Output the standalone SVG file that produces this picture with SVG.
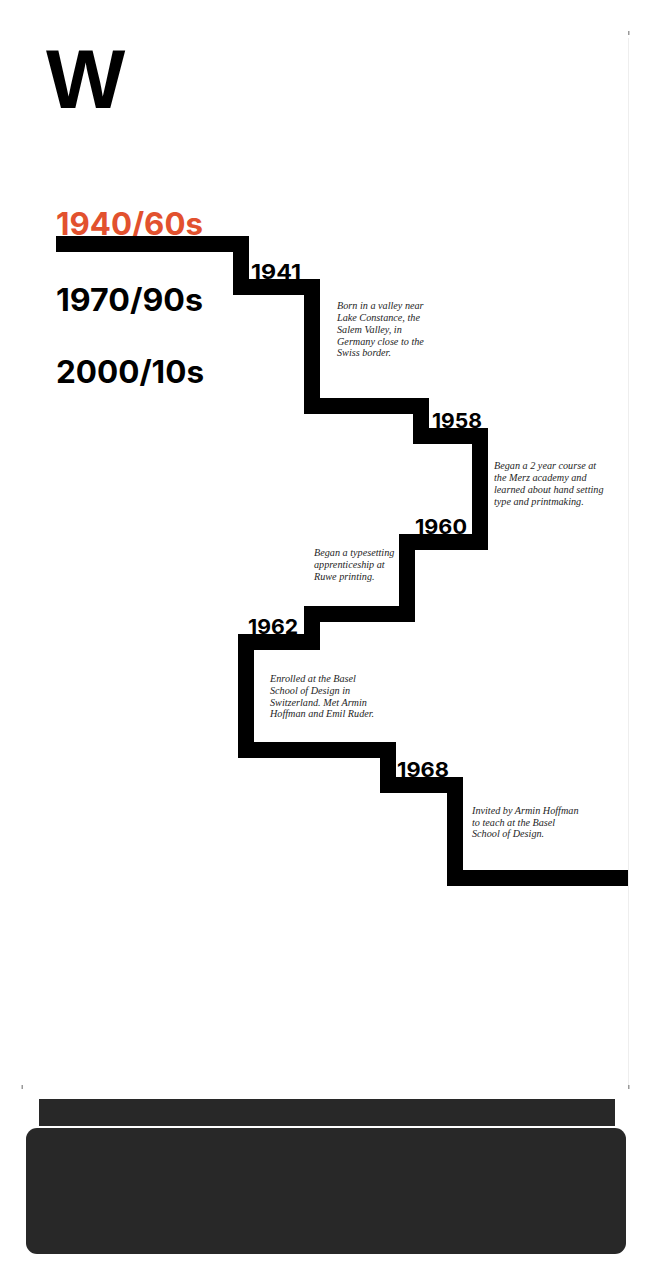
<svg xmlns="http://www.w3.org/2000/svg" width="656" height="1280" viewBox="0 0 656 1280">
  <style>
    .decade { font-family: Inter, "Liberation Sans", Arial, sans-serif; font-weight: bold; font-size: 31px; fill: #000; }
    .year { font-family: Inter, "Liberation Sans", Arial, sans-serif; font-weight: bold; font-size: 20px; fill: #000; }
    .note { font-family: "Liberation Serif", "Times New Roman", serif; font-style: italic; font-size: 10.2px; fill: #1e1e1e; }
    .stair { fill: none; stroke: #000; stroke-width: 16; stroke-linejoin: miter; stroke-linecap: butt; }
    .dark { fill: #282828; }
  </style>
  <rect x="0" y="0" width="656" height="1280" fill="#ffffff"/>
  <line x1="628.5" y1="38" x2="628.5" y2="1086" stroke="#eeeeee" stroke-width="1"/>
  <rect x="628" y="31" width="1.5" height="4" fill="#9a9a9a"/>
  <rect x="628" y="1085" width="1.5" height="4" fill="#9a9a9a"/>
  <rect x="21.5" y="1085" width="1.5" height="4" fill="#9a9a9a"/>

  <g id="logo">
    <text x="46" y="108" font-family="Liberation Sans, Arial, sans-serif" font-weight="bold" font-size="84" fill="#000">W</text>
  </g>

  <g id="decades">
    <text class="decade" x="56" y="235" textLength="147" lengthAdjust="spacingAndGlyphs" style="fill:#E2512E">1940/60s</text>
    <text class="decade" x="56" y="311" textLength="147" lengthAdjust="spacingAndGlyphs">1970/90s</text>
    <text class="decade" x="56" y="383" textLength="148" lengthAdjust="spacingAndGlyphs">2000/10s</text>
  </g>

  <g id="connectors">
    <path class="stair" d="M56,244 H241 V287 H312 V406 H421 V436 H480 V542 H407 V614 H312 V642 H246 V750 H388 V785 H455 V878 H628"/>
  </g>

  <g id="node-1941">
    <text class="year" x="251" y="279" textLength="50" lengthAdjust="spacingAndGlyphs">1941</text>
    <text class="note" x="337" y="309">Born in a valley near</text>
    <text class="note" x="337" y="321">Lake Constance, the</text>
    <text class="note" x="337" y="332.5">Salem Valley, in</text>
    <text class="note" x="337" y="344.5">Germany close to the</text>
    <text class="note" x="337" y="356">Swiss border.</text>
  </g>

  <g id="node-1958">
    <text class="year" x="432" y="428" textLength="50" lengthAdjust="spacingAndGlyphs">1958</text>
    <text class="note" x="494" y="469">Began a 2 year course at</text>
    <text class="note" x="494" y="481">the Merz academy and</text>
    <text class="note" x="494" y="492.5">learned about hand setting</text>
    <text class="note" x="494" y="504.5">type and printmaking.</text>
  </g>

  <g id="node-1960">
    <text class="year" x="415" y="534" textLength="52" lengthAdjust="spacingAndGlyphs">1960</text>
    <text class="note" x="314" y="556">Began a typesetting</text>
    <text class="note" x="314" y="568">apprenticeship at</text>
    <text class="note" x="314" y="580">Ruwe printing.</text>
  </g>

  <g id="node-1962">
    <text class="year" x="248" y="634" textLength="50" lengthAdjust="spacingAndGlyphs">1962</text>
    <text class="note" x="270" y="682">Enrolled at the Basel</text>
    <text class="note" x="270" y="694">School of Design in</text>
    <text class="note" x="270" y="705.5">Switzerland. Met Armin</text>
    <text class="note" x="270" y="717">Hoffman and Emil Ruder.</text>
  </g>

  <g id="node-1968">
    <text class="year" x="397" y="777" textLength="52" lengthAdjust="spacingAndGlyphs">1968</text>
    <text class="note" x="472" y="814">Invited by Armin Hoffman</text>
    <text class="note" x="472" y="825.5">to teach at the Basel</text>
    <text class="note" x="472" y="837">School of Design.</text>
  </g>

  <g id="footer">
    <rect class="dark" x="39" y="1099" width="576" height="27"/>
    <rect class="dark" x="26" y="1128" width="600" height="126" rx="11" ry="11"/>
  </g>
</svg>
